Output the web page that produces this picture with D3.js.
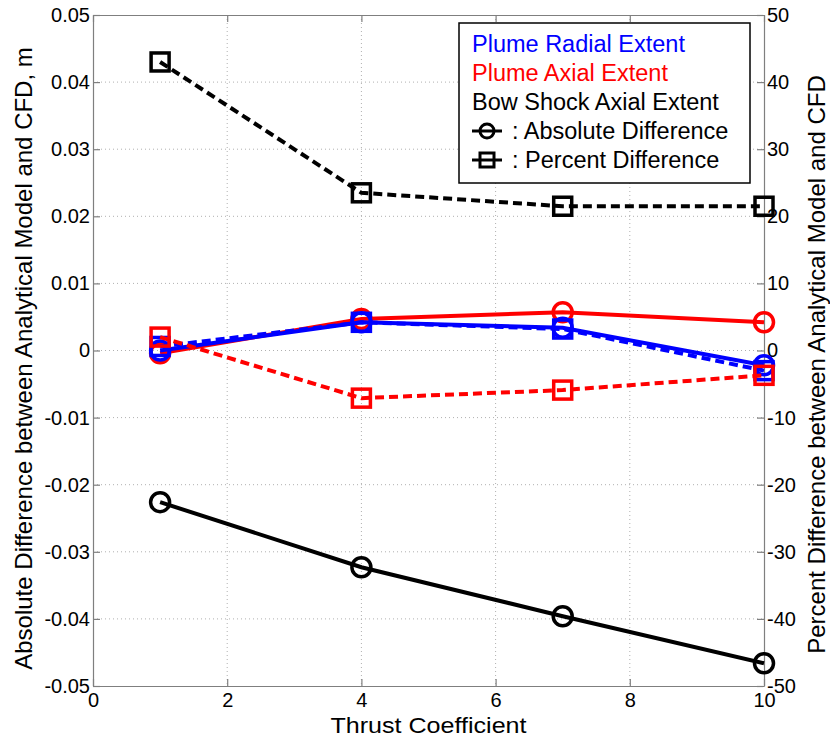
<!DOCTYPE html>
<html><head><meta charset="utf-8">
<script src="https://cdn.jsdelivr.net/npm/d3@7"></script>
<style>body{margin:0;background:#fff;} text{font-family:"Liberation Sans",Arial,sans-serif;}</style>
</head><body><svg id="c" width="830" height="738"></svg>
<script>
const thrust = [1, 4, 7, 10];
const radialAbs = [0.0000, 0.0042, 0.0034, -0.0022];
const radialPct = [0.6, 4.2, 3.2, -3.0];
const axialAbs = [-0.0004, 0.0047, 0.0057, 0.0042];
const axialPct = [2.0, -7.1, -5.9, -3.7];
const bowAbs = [-0.0226, -0.0323, -0.0396, -0.0466];
const bowPct = [43.0, 23.5, 21.5, 21.5];
const xTicks = [0, 2, 4, 6, 8, 10];
const yLeftTicks = [-0.05, -0.04, -0.03, -0.02, -0.01, 0, 0.01, 0.02, 0.03, 0.04, 0.05];
const yRightTicks = [-50, -40, -30, -20, -10, 0, 10, 20, 30, 40, 50];
const legendItems = [
  {label: "Plume Radial Extent", color: "#0000ff"},
  {label: "Plume Axial Extent", color: "#ff0000"},
  {label: "Bow Shock Axial Extent", color: "#000000"}
];

const svg = d3.select("#c");
const L = 93, R = 764, T = 15, B = 686;
const x = d3.scaleLinear().domain([0, 10]).range([L, R]);
const yL = d3.scaleLinear().domain([-0.05, 0.05]).range([B, T]);
const yR = d3.scaleLinear().domain([-50, 50]).range([B, T]);
const axisCol = "#7f7f7f";

// grid
const g = svg.append("g");
g.selectAll("line.gx").data(xTicks.slice(1, -1)).join("line")
  .attr("x1", d => x(d)).attr("x2", d => x(d)).attr("y1", T).attr("y2", B)
  .attr("stroke", "#b0b0b0").attr("stroke-width", 1).attr("stroke-dasharray", "1,3");
g.selectAll("line.gy").data(yLeftTicks.slice(1, -1)).join("line")
  .attr("y1", d => yL(d)).attr("y2", d => yL(d)).attr("x1", L).attr("x2", R)
  .attr("stroke", "#b0b0b0").attr("stroke-width", 1).attr("stroke-dasharray", "1,3");

// axes
const axB = svg.append("g").attr("transform", `translate(0,${B})`)
  .call(d3.axisBottom(x).tickValues(xTicks).tickSize(-7).tickSizeOuter(0));
const axT = svg.append("g").attr("transform", `translate(0,${T})`)
  .call(d3.axisTop(x).tickValues(xTicks).tickSize(-7).tickSizeOuter(0).tickFormat(""));
const axLft = svg.append("g").attr("transform", `translate(${L},0)`)
  .call(d3.axisLeft(yL).tickValues(yLeftTicks).tickSize(-7).tickSizeOuter(0).tickPadding(3)
    .tickFormat(d => Math.abs(d) < 1e-9 ? "0" : d3.format(".2f")(d).replace("−", "-")));
const axRgt = svg.append("g").attr("transform", `translate(${R},0)`)
  .call(d3.axisRight(yR).tickValues(yRightTicks).tickSize(-7).tickSizeOuter(0).tickPadding(3)
    .tickFormat(d => String(d)));
[axB, axT, axLft, axRgt].forEach(a => {
  a.select(".domain").attr("stroke", axisCol).attr("stroke-width", 1.2);
  a.selectAll(".tick line").attr("stroke", axisCol).attr("stroke-width", 1.2);
  a.selectAll("text").attr("font-size", 20).attr("fill", "#000")
    .style("font-family", '"Liberation Sans", Arial, sans-serif');
});
axB.selectAll("text").attr("y", 7).attr("dy", "0.71em");

// axis titles
svg.append("text").attr("x", (L + R) / 2).attr("y", 733).attr("text-anchor", "middle")
  .attr("font-size", 22).attr("textLength", 196).attr("lengthAdjust", "spacingAndGlyphs")
  .text("Thrust Coefficient");
svg.append("text").attr("transform", `translate(32,${(T + B) / 2 + 8}) rotate(-90)`)
  .attr("text-anchor", "middle").attr("font-size", 24)
  .text("Absolute Difference between Analytical Model and CFD, m");
svg.append("text").attr("transform", `translate(825,${(T + B) / 2 + 14}) rotate(-90)`)
  .attr("text-anchor", "middle").attr("font-size", 24)
  .text("Percent Difference between Analytical Model and CFD");

// series
const series = [
  {abs: axialAbs, pct: axialPct, color: "#ff0000"},
  {abs: radialAbs, pct: radialPct, color: "#0000ff"},
  {abs: bowAbs, pct: bowPct, color: "#000000"}
];
const lineAbs = d3.line().x((d, i) => x(thrust[i])).y(d => yL(d));
const linePct = d3.line().x((d, i) => x(thrust[i])).y(d => yR(d));
const order = [
  {s: series[0], kind: "abs"}, {s: series[1], kind: "abs"},
  {s: series[1], kind: "pct"}, {s: series[0], kind: "pct"},
  {s: series[2], kind: "abs"}, {s: series[2], kind: "pct"}
];
order.forEach(o => {
  const data = o.kind === "abs" ? o.s.abs : o.s.pct;
  const yS = o.kind === "abs" ? yL : yR;
  const gg = svg.append("g");
  gg.append("path").datum(data)
    .attr("d", o.kind === "abs" ? lineAbs : linePct)
    .attr("fill", "none").attr("stroke", o.s.color).attr("stroke-width", 4)
    .attr("stroke-dasharray", o.kind === "pct" ? "9,5" : null);
  if (o.kind === "abs") {
    gg.selectAll("circle").data(data).join("circle")
      .attr("cx", (d, i) => x(thrust[i])).attr("cy", d => yS(d)).attr("r", 9.5)
      .attr("fill", "none").attr("stroke", o.s.color).attr("stroke-width", 3.5);
  } else {
    gg.selectAll("rect").data(data).join("rect")
      .attr("x", (d, i) => x(thrust[i]) - 9).attr("y", d => yS(d) - 9)
      .attr("width", 18).attr("height", 18)
      .attr("fill", "none").attr("stroke", o.s.color).attr("stroke-width", 3.5);
  }
});

// legend
const lg = svg.append("g");
lg.append("rect").attr("x", 459).attr("y", 23).attr("width", 291).attr("height", 160)
  .attr("fill", "#fff").attr("stroke", "#000").attr("stroke-width", 1.5);
legendItems.forEach((it, i) => {
  lg.append("text").attr("x", 472).attr("y", 52 + i * 29).attr("font-size", 23.5)
    .attr("fill", it.color).text(it.label);
});
const rowY = [139, 168];
lg.append("line").attr("x1", 472).attr("x2", 502).attr("y1", rowY[0] - 8).attr("y2", rowY[0] - 8)
  .attr("stroke", "#000").attr("stroke-width", 3);
lg.append("circle").attr("cx", 487).attr("cy", rowY[0] - 8).attr("r", 7)
  .attr("fill", "none").attr("stroke", "#000").attr("stroke-width", 3);
lg.append("text").attr("x", 512).attr("y", rowY[0]).attr("font-size", 23.5).text(": Absolute Difference");
lg.append("line").attr("x1", 472).attr("x2", 502).attr("y1", rowY[1] - 8).attr("y2", rowY[1] - 8)
  .attr("stroke", "#000").attr("stroke-width", 3);
lg.append("rect").attr("x", 480).attr("y", rowY[1] - 15).attr("width", 14).attr("height", 14)
  .attr("fill", "none").attr("stroke", "#000").attr("stroke-width", 3);
lg.append("text").attr("x", 512).attr("y", rowY[1]).attr("font-size", 23.5).text(": Percent Difference");
</script></body></html>
